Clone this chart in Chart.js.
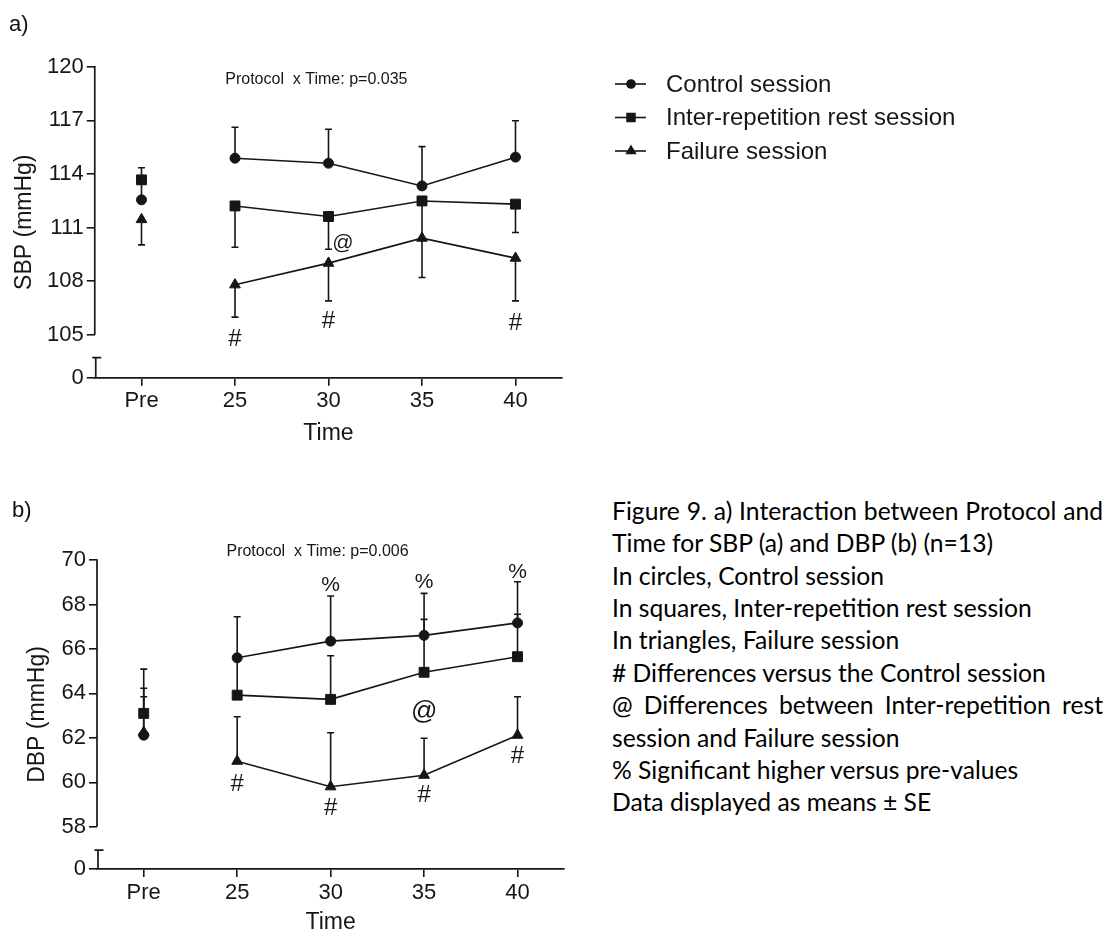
<!DOCTYPE html>
<html><head><meta charset="utf-8">
<script src="https://cdn.jsdelivr.net/npm/chart.js@4.4.1/dist/chart.umd.min.js"></script>
<style>
html,body{margin:0;padding:0;background:#fff;}
body{width:1115px;height:938px;position:relative;overflow:hidden;}
canvas{position:absolute;left:0;}
#cA{top:0;} #cB{top:470px;}
.plab{position:absolute;font-family:'Liberation Sans',Arial,sans-serif;font-size:22px;color:#111;line-height:22px;}
#caption{position:absolute;left:612px;top:0;width:491px;font-family:Lato,'Open Sans',sans-serif;color:#000;}
.cl{position:absolute;left:0;width:491px;white-space:nowrap;height:32px;line-height:32px;}
.cl.j{text-align:justify;text-align-last:justify;white-space:normal;overflow:hidden;}
</style></head><body>
<canvas id="cA" width="1000" height="470"></canvas>
<canvas id="cB" width="600" height="468"></canvas>
<div class="plab" style="left:9px;top:13px;">a)</div>
<div class="plab" style="left:12px;top:499px;">b)</div>
<div id="caption"></div>
<script>
// ---------------- data ----------------
const xLabels = ['Pre', '25', '30', '35', '40'];
const seriesNames = ['Control session', 'Inter-repetition rest session', 'Failure session'];

// a) SBP (mmHg), means and SE
const sbpControl   = [112.55, 114.88, 114.60, 113.33, 114.94];
const sbpControlSE = [0.90, 1.73, 1.90, 2.20, 2.04];
const sbpRest      = [113.67, 112.21, 111.62, 112.49, 112.31];
const sbpRestSE    = [0.68, 2.31, 1.83, 2.10, 1.59];
const sbpFail      = [111.45, 107.80, 109.01, 110.41, 109.29];
const sbpFailSE    = [1.42, 1.81, 2.11, 2.20, 2.39];
const sbpTicks     = [105, 108, 111, 114, 117, 120];

// b) DBP (mmHg), means and SE
const dbpControl   = [62.12, 65.60, 66.35, 66.61, 67.17];
const dbpControlSE = [2.97, 1.85, 2.03, 1.89, 1.85];
const dbpRest      = [63.10, 63.92, 63.73, 64.95, 65.65];
const dbpRestSE    = [1.13, 1.75, 1.96, 2.38, 1.91];
const dbpFail      = [62.25, 60.95, 59.80, 60.32, 62.12];
const dbpFailSE    = [1.60, 2.00, 2.43, 1.66, 1.73];
const dbpTicks     = [58, 60, 62, 64, 66, 68, 70];

const breakLabel = '0';

// annotations (text, x index, y value)
const sbpNoteText = ['#', '#', '#', '@'];
const sbpNoteX    = [1, 2, 4, 2.155];
const sbpNoteY    = [104.72, 105.75, 105.66, 110.15];
const dbpNoteText = ['%', '%', '%', '@', '#', '#', '#', '#'];
const dbpNoteX    = [2, 3, 4, 3, 1, 2, 3, 4];
const dbpNoteY    = [68.87, 69.02, 69.43, 63.17, 59.92, 58.83, 59.42, 61.15];

const captionLines = [
  'Figure 9. a) Interaction between Protocol and',
  'Time for SBP (a) and DBP (b) (n=13)',
  'In circles, Control session',
  'In squares, Inter-repetition rest session',
  'In triangles, Failure session',
  '# Differences versus the Control session',
  '@ Differences between Inter-repetition rest',
  'session and Failure session',
  '% Significant higher versus pre-values',
  'Data displayed as means \u00b1 SE'
];

// ---------------- styling ----------------
const FONT = "'Liberation Sans', Arial, sans-serif";
const INK = '#161616';
const styles = [
  {pointStyle: 'circle', radius: 5},
  {pointStyle: 'rect', radius: 7},
  {pointStyle: 'triangle', radius: 6.2}
];

function dataset(values, k) {
  return {
    label: seriesNames[k],
    data: values.map((v, i) => ({x: i, y: v})),
    borderColor: INK,
    borderWidth: 1.6,
    pointStyle: styles[k].pointStyle,
    pointRadius: styles[k].radius,
    pointHoverRadius: styles[k].radius,
    pointBackgroundColor: INK,
    pointBorderColor: INK,
    pointBorderWidth: 1,
    fill: false,
    tension: 0,
    segment: { borderColor: c => c.p0DataIndex === 0 ? 'rgba(0,0,0,0)' : INK }
  };
}

function decorPlugin(cfg) {
  return {
    id: 'decor',
    beforeDatasetsDraw(chart) {
      const {ctx, chartArea} = chart;
      const x = chart.scales.x, y = chart.scales.y;
      ctx.save();
      ctx.strokeStyle = INK;
      ctx.lineWidth = 1.7;
      const ax = chartArea.left;
      ctx.beginPath();
      ctx.moveTo(ax, y.getPixelForValue(cfg.ticks[cfg.ticks.length - 1]) - 0.8);
      ctx.lineTo(ax, y.getPixelForValue(cfg.ticks[0]));
      const bt = y.getPixelForValue(cfg.breakTop);
      const bb = y.getPixelForValue(y.min);
      ctx.moveTo(ax + 1, bt); ctx.lineTo(ax + 1, bb);
      ctx.moveTo(ax - 2.5, bt); ctx.lineTo(ax + 6.5, bt);
      ctx.stroke();
      ctx.lineWidth = 1.6;
      cfg.series.forEach(s => {
        s.values.forEach((v, i) => {
          const px = x.getPixelForValue(i);
          const p0 = y.getPixelForValue(v);
          const p1 = y.getPixelForValue(v + s.dir[i] * s.se[i]);
          ctx.beginPath();
          ctx.moveTo(px, p0); ctx.lineTo(px, p1);
          ctx.moveTo(px - 3.5, p1); ctx.lineTo(px + 3.5, p1);
          ctx.stroke();
        });
      });
      ctx.restore();
    },
    afterDraw(chart) {
      const {ctx} = chart;
      const x = chart.scales.x, y = chart.scales.y;
      ctx.save();
      ctx.fillStyle = INK;
      ctx.textAlign = 'center';
      ctx.textBaseline = 'middle';
      cfg.notes.text.forEach((t, i) => {
        const size = t === '#' ? 24 : (t === '%' ? 21 : cfg.atSize);
        ctx.font = size + 'px ' + FONT;
        ctx.fillText(t, x.getPixelForValue(cfg.notes.x[i]), y.getPixelForValue(cfg.notes.y[i]));
      });
      ctx.font = '16px ' + FONT;
      ctx.fillText(cfg.protocol.text, x.getPixelForValue(cfg.protocol.x), y.getPixelForValue(cfg.protocol.y));
      if (cfg.legend) {
        const rows = [84, 117.5, 151];
        ctx.textAlign = 'left';
        ctx.font = '24px ' + FONT;
        seriesNames.forEach((name, k) => {
          const yy = rows[k];
          ctx.strokeStyle = INK; ctx.lineWidth = 1.6;
          ctx.beginPath(); ctx.moveTo(615, yy); ctx.lineTo(646, yy); ctx.stroke();
          Chart.helpers.drawPoint(ctx, {pointStyle: styles[k].pointStyle, radius: styles[k].radius * 0.8, rotation: 0, borderWidth: 1}, 631, yy);
          ctx.fill();
          ctx.fillStyle = INK;
          ctx.fillText(name, 666, yy + 1);
        });
      }
      ctx.restore();
    }
  };
}

function makeChart(id, o) {
  const W = o.W, H = o.H;
  const ds = [dataset(o.c, 0), dataset(o.r, 1), dataset(o.f, 2)];
  return new Chart(document.getElementById(id), {
    type: 'line',
    data: {datasets: ds},
    options: {
      responsive: false,
      animation: false,
      devicePixelRatio: 1,
      events: [],
      layout: {padding: {left: 0, top: o.top, right: W - o.right, bottom: 0}},
      plugins: {legend: {display: false}, tooltip: {enabled: false}},
      scales: {
        x: {
          type: 'linear', min: -0.5, max: 4.5,
          afterBuildTicks: s => { s.ticks = xLabels.map((_, i) => ({value: i})); },
          afterFit: s => { s.height = H - o.bottom; },
          ticks: {callback: v => xLabels[v], font: {family: FONT, size: 22}, color: INK, padding: o.xPad, maxRotation: 0, autoSkip: false},
          grid: {display: true, drawOnChartArea: false, drawTicks: true, tickLength: 8, color: INK, lineWidth: 1.6},
          border: {display: true, color: INK, width: 1.7},
          title: {display: true, text: 'Time', font: {family: FONT, size: 23}, color: INK, padding: {top: 0, bottom: o.xTitlePad}}
        },
        y: {
          type: 'linear', min: o.min, max: o.ticks[o.ticks.length - 1],
          afterBuildTicks: s => { s.ticks = [{value: o.min}].concat(o.ticks.map(v => ({value: v}))); },
          afterFit: s => { s.width = o.left; },
          ticks: {callback: v => (v < o.ticks[0] ? breakLabel : String(v)), font: {family: FONT, size: 22}, color: INK, padding: 3, autoSkip: false},
          grid: {display: true, drawOnChartArea: false, drawTicks: true, tickLength: 8, color: INK, lineWidth: 1.6},
          border: {display: false},
          title: {display: true, text: o.title, font: {family: FONT, size: 23}, color: INK, padding: {top: o.yTitlePad, bottom: 0}}
        }
      }
    },
    plugins: [decorPlugin({
      ticks: o.ticks, breakTop: o.breakTop, atSize: o.atSize,
      series: [
        {values: o.c, se: o.cSE, dir: o.cDir},
        {values: o.r, se: o.rSE, dir: o.rDir},
        {values: o.f, se: o.fSE, dir: o.fDir}
      ],
      notes: o.notes, protocol: o.protocol, legend: o.legend
    })]
  });
}

makeChart('cA', {
  W: 1000, H: 470, left: 94.75, right: 562.25, top: 66.7, bottom: 377.7,
  min: 102.6, ticks: sbpTicks, breakTop: 103.72, title: 'SBP (mmHg)',
  xPad: 2.5, xTitlePad: 23, yTitlePad: 11, atSize: 21,
  c: sbpControl, cSE: sbpControlSE, cDir: [1, 1, 1, 1, 1],
  r: sbpRest, rSE: sbpRestSE, rDir: [1, -1, -1, -1, -1],
  f: sbpFail, fSE: sbpFailSE, fDir: [-1, -1, -1, -1, -1],
  notes: {text: sbpNoteText, x: sbpNoteX, y: sbpNoteY},
  protocol: {text: 'Protocol  x Time: p=0.035', x: 1.87, y: 119.3},
  legend: true
});

makeChart('cB', {
  W: 600, H: 468, left: 97, right: 564.25, top: 90, bottom: 399,
  min: 56.1, ticks: dbpTicks, breakTop: 56.95, title: 'DBP (mmHg)',
  xPad: 2.5, xTitlePad: 1.5, yTitlePad: 23.5, atSize: 26,
  c: dbpControl, cSE: dbpControlSE, cDir: [1, 1, 1, 1, 1],
  r: dbpRest, rSE: dbpRestSE, rDir: [1, 1, 1, 1, 1],
  f: dbpFail, fSE: dbpFailSE, fDir: [1, 1, 1, 1, 1],
  notes: {text: dbpNoteText, x: dbpNoteX, y: dbpNoteY},
  protocol: {text: 'Protocol  x Time: p=0.006', x: 1.86, y: 70.37},
  legend: false
});

// caption
(function () {
  const cap = document.getElementById('caption');
  const mc = document.createElement('canvas').getContext('2d');
  mc.font = "100px Lato";
  const w = mc.measureText(captionLines[3]).width;
  const size = 100 * 420 / w;
  cap.style.fontSize = size.toFixed(2) + 'px';
  captionLines.forEach((t, i) => {
    const d = document.createElement('div');
    d.className = 'cl' + ((i === 0 || i === 6) ? ' j' : '');
    d.textContent = t;
    d.style.top = (510.7 + i * 32.4 - 16) + 'px';
    cap.appendChild(d);
  });
})();
</script>
</body></html>
